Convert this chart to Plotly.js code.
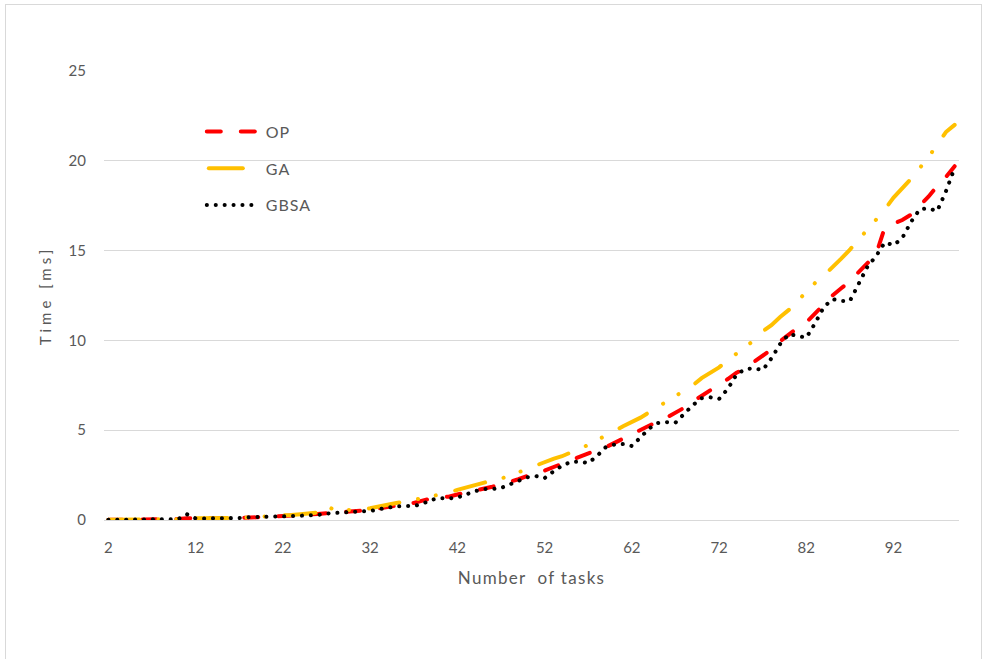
<!DOCTYPE html>
<html>
<head>
<meta charset="utf-8">
<script src="https://cdn.plot.ly/plotly-3.0.1.min.js"></script>
<style>
  html, body { margin: 0; padding: 0; background: #fff; }
  #wrap { position: relative; width: 985px; height: 659px; }
  #chart { width: 985px; height: 659px; }
  #frame { position: absolute; left: 5px; top: 4px; width: 977px; height: 660px; border: 1px solid #d9d9d9; pointer-events: none; box-sizing: border-box; }
  .js-line, .legendlines path { stroke-linecap: round; }
  .g-ytitle text { letter-spacing: 4px; }
  .g-xtitle text { letter-spacing: 1.3px; }
  .legendtext { letter-spacing: 1px; }
</style>
</head>
<body>
<div id="wrap">
  <div id="chart"></div>
  <div id="frame"></div>
</div>
<script>
// Number of tasks: 2 .. 99
const tasks = [];
for (let n = 2; n <= 99; n++) tasks.push(n);

const xTickVals = [2, 12, 22, 32, 42, 52, 62, 72, 82, 92];
const yTickVals = [0, 5, 10, 15, 20, 25];

const seriesNames = ["OP", "GA", "GBSA"];

const opTime = [
  0.01,0.01,0.02,0.02,0.03,0.04,0.04,0.04,
  0.05,0.1,0.08,0.09,0.09,0.1,0.1,0.11,0.12,0.15,
  0.18,0.2,0.21,0.22,0.28,0.3,0.34,0.37,0.4,0.44,
  0.46,0.48,0.55,0.65,0.72,0.78,0.85,0.95,1.08,1.2,
  1.25,1.3,1.42,1.52,1.6,1.7,1.85,1.98,2.1,2.27,
  2.45,2.55,2.75,2.95,3.12,3.3,3.5,3.7,3.9,4.05,
  4.3,4.55,4.75,5.0,5.3,5.5,5.7,5.95,6.25,6.6,
  6.9,7.25,7.5,7.85,8.2,8.45,8.8,9.15,9.5,9.95,
  10.35,10.7,11.0,11.5,12.0,12.5,12.9,13.3,13.8,14.3,
  14.8,16.3,16.5,16.7,17.0,17.5,18.0,18.6,19.1,19.7
];

const gaTime = [
  0.01,0.01,0.02,0.02,0.03,0.03,0.04,0.04,
  0.05,0.05,0.09,0.09,0.1,0.1,0.1,0.11,0.15,0.17,
  0.19,0.2,0.22,0.28,0.32,0.35,0.42,0.8,0.52,0.55,
  0.56,0.58,0.65,0.75,0.88,0.95,1.02,1.12,1.2,1.3,
  1.42,1.52,1.68,1.82,1.95,2.08,2.2,2.3,2.45,2.65,
  2.85,3.05,3.2,3.4,3.55,3.75,3.95,4.18,4.45,4.68,
  4.95,5.22,5.45,5.7,6.0,6.3,6.58,6.85,7.15,7.5,
  7.9,8.2,8.5,8.9,9.25,9.6,10.0,10.5,10.85,11.3,
  11.7,12.2,12.7,13.2,13.6,14.05,14.55,15.05,15.65,16.15,
  16.7,17.3,17.95,18.45,19.0,19.6,20.2,20.9,21.6,22.0
];

const gbsaTime = [
  0.01,0.01,0.02,0.02,0.02,0.03,0.03,0.04,
  0.05,0.32,0.09,0.09,0.09,0.1,0.1,0.11,0.15,0.18,
  0.19,0.19,0.2,0.22,0.28,0.28,0.28,0.36,0.37,0.42,
  0.46,0.46,0.5,0.6,0.68,0.76,0.78,0.78,0.9,1.12,
  1.22,1.2,1.25,1.45,1.6,1.72,1.72,1.78,1.98,2.15,
  2.38,2.45,2.33,2.7,3.02,3.24,3.25,3.17,3.56,4.05,
  4.2,4.23,4.12,4.6,5.1,5.4,5.45,5.42,5.95,6.4,
  6.78,6.83,6.74,7.3,8.1,8.4,8.45,8.35,9.0,9.8,
  10.35,10.25,10.15,10.95,11.85,12.3,12.2,12.2,13.1,14.1,
  14.7,15.45,15.3,15.7,16.6,17.3,17.35,17.2,18.3,19.6
];

const FONT = "Lato, 'Open Sans', sans-serif";
const GREY = "#595959";

const traces = [
  { x: tasks, y: opTime, name: seriesNames[0], type: "scatter", mode: "lines", legendgroup: "a",
    line: { color: "#FF0000", width: 4, dash: "14px,20px" } },
  { x: tasks, y: gaTime, name: seriesNames[1], type: "scatter", mode: "lines", legendgroup: "b",
    line: { color: "#FFC000", width: 4, dash: "31px,19px,0.1px,18px,0.1px,20px" } },
  { x: tasks, y: gbsaTime, name: seriesNames[2], type: "scatter", mode: "lines", legendgroup: "c",
    line: { color: "#000000", width: 4, dash: "0.1px,8.8px" } }
];

const layout = {
  width: 985, height: 659,
  margin: { l: 104, r: 26, t: 71, b: 139 },
  paper_bgcolor: "#fff", plot_bgcolor: "#fff",
  font: { family: FONT, color: GREY, size: 15 },
  showlegend: true,
  legend: {
    x: 0.1144, y: 0.903, xanchor: "left", yanchor: "top",
    bgcolor: "rgba(0,0,0,0)", font: { family: FONT, size: 16, color: GREY },
    traceorder: "grouped", tracegroupgap: 13, itemwidth: 54
  },
  xaxis: {
    range: [1.5, 99.5], tickmode: "array", tickvals: xTickVals, ticktext: xTickVals.map(String),
    showgrid: false, zeroline: false, showline: true, linecolor: "#d9d9d9", linewidth: 1,
    ticks: "", ticklabelstandoff: 14, tickfont: { size: 15, color: GREY, family: FONT },
    title: { text: "Number\u00a0 of tasks", font: { size: 17, color: GREY, family: FONT }, standoff: 17 }
  },
  yaxis: {
    range: [0, 25], tickmode: "array", tickvals: yTickVals, ticktext: yTickVals.map(String),
    showgrid: true, gridcolor: "#d9d9d9", gridwidth: 1, zeroline: false, showline: false,
    ticks: "", ticklabelstandoff: 17, tickfont: { size: 15, color: GREY, family: FONT },
    title: { text: "Time [ms]", font: { size: 15, color: GREY, family: FONT }, standoff: 13 }
  }
};

Plotly.newPlot("chart", traces, layout, { staticPlot: true, displayModeBar: false }).then(function (gd) {
  const paths = document.querySelectorAll("#chart .legendlines path");
  paths.forEach(function (p, i) {
    if (i === 1) {
      p.setAttribute("d", "M7,0h34");
      p.style.strokeDasharray = "none";
    } else {
      p.setAttribute("d", "M5,0h53");
    }
  });
});
</script>
</body>
</html>
